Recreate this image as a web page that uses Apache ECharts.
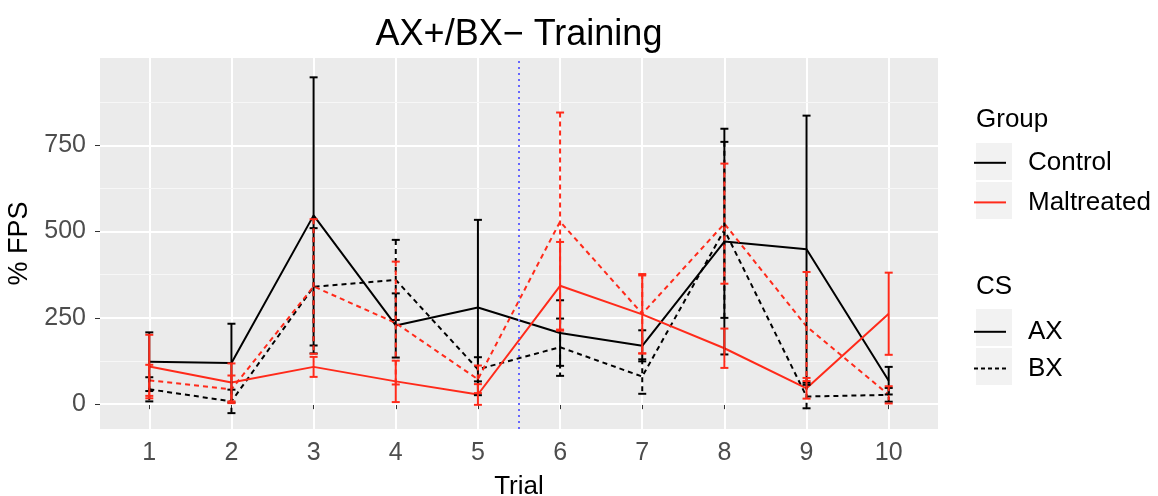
<!DOCTYPE html>
<html>
<head>
<meta charset="utf-8">
<script src="https://cdn.jsdelivr.net/npm/echarts@6/dist/echarts.min.js"></script>
<style>
  html, body { margin: 0; padding: 0; background: #fff; }
  #chart { width: 1158px; height: 496px; }
</style>
</head>
<body>
<div id="chart"></div>
<script>
// trials on the x axis
var trials = [1, 2, 3, 4, 5, 6, 7, 8, 9, 10];
var yTicks = [0, 250, 500, 750];
var yMinorTicks = [125, 375, 625, 875];

// % FPS means and error half-widths
var controlAX = [123, 119, 547, 228, 280, 206, 169, 471, 449, 68];
var controlAXErr = [85, 114, 400, 93, 254, 95, 45, 327, 387, 40];
var controlBX = [43, 8, 340, 360, 101, 165, 80, 505, 22, 27];
var controlBXErr = [35, 34, 170, 116, 35, 83, 50, 255, 34, 20];
var maltAX = [109, 63, 108, 66, 28, 343, 260, 162, 46, 262];
var maltAXErr = [92, 55, 29, 60, 30, 127, 113, 57, 30, 119];
var maltBX = [69, 43, 341, 235, 72, 529, 262, 523, 225, 27];
var maltBXErr = [45, 40, 195, 178, 40, 316, 115, 174, 158, 25];

var FONT = '"Liberation Sans", Arial, sans-serif';
var BLACK = '#000000';
var RED = '#ff2a1a';
var DASH = [5, 4];

function pairs(vals) {
  return trials.map(function (t, i) { return [t, vals[i]]; });
}

function lineSeries(name, color, dashed, vals) {
  return {
    name: name,
    type: 'line',
    data: pairs(vals),
    symbol: 'none',
    color: color,
    lineStyle: { color: color, width: 2, type: dashed ? DASH : 'solid' },
    z: 3
  };
}

function errorSeries(color, dashed, vals, errs) {
  return {
    type: 'custom',
    data: trials.map(function (t, i) { return [t, vals[i] - errs[i], vals[i] + errs[i]]; }),
    renderItem: function (params, api) {
      var lo = api.coord([api.value(0), api.value(1)]);
      var hi = api.coord([api.value(0), api.value(2)]);
      var w = 4;
      var bar = { stroke: color, lineWidth: 2, lineDash: dashed ? DASH : null };
      var cap = { stroke: color, lineWidth: 2 };
      return {
        type: 'group',
        children: [
          { type: 'line', shape: { x1: hi[0], y1: hi[1], x2: lo[0], y2: lo[1] }, style: bar },
          { type: 'line', shape: { x1: hi[0] - w, y1: hi[1], x2: hi[0] + w, y2: hi[1] }, style: cap },
          { type: 'line', shape: { x1: lo[0] - w, y1: lo[1], x2: lo[0] + w, y2: lo[1] }, style: cap }
        ]
      };
    },
    z: 4
  };
}

// dummy series, only there to feed the two legends
function keySeries(name, color, dashed) {
  return {
    name: name,
    type: 'line',
    data: [],
    symbol: 'none',
    color: color,
    itemStyle: { color: color },
    lineStyle: { color: color, width: 2.6, type: dashed ? [4, 3] : 'solid' }
  };
}

var chart = echarts.init(document.getElementById('chart'));

var ctrlLine = lineSeries('Control AX', BLACK, false, controlAX);
ctrlLine.markLine = {
  silent: true,
  symbol: 'none',
  label: { show: false },
  lineStyle: { color: '#6666ff', width: 2, type: [2, 4] },
  data: [{ xAxis: 5.5 }]
};

var legendText = { fontFamily: FONT, fontSize: 26, color: '#000', padding: [0, 0, 0, 17] };

chart.setOption({
  animation: false,
  textStyle: { fontFamily: FONT },
  title: {
    text: 'AX+/BX\u2212 Training',
    left: 514,
    top: 12,
    textAlign: 'center',
    textStyle: { fontFamily: FONT, fontSize: 36, fontWeight: 'normal', color: '#000' }
  },
  grid: {
    left: 100, right: 220, top: 58, bottom: 67,
    outerBoundsMode: 'none',
    backgroundColor: '#ebebeb', show: true, borderWidth: 0
  },
  legend: [
    {
      data: ['Control', 'Maltreated'],
      orient: 'vertical',
      left: 973,
      top: 148,
      padding: 0,
      itemWidth: 32,
      itemHeight: 37,
      itemGap: 10,
      selectedMode: false,
      itemStyle: { opacity: 0 },
      textStyle: legendText
    },
    {
      data: ['AX', 'BX'],
      orient: 'vertical',
      left: 973,
      top: 317,
      padding: 0,
      itemWidth: 32,
      itemHeight: 37,
      itemGap: 7,
      selectedMode: false,
      itemStyle: { opacity: 0 },
      textStyle: legendText
    }
  ],
  graphic: [
    { type: 'rect', left: 976, top: 143, shape: { width: 36, height: 37 }, style: { fill: '#f2f2f2' }, z: -1 },
    { type: 'rect', left: 976, top: 182, shape: { width: 36, height: 37 }, style: { fill: '#f2f2f2' }, z: -1 },
    { type: 'rect', left: 976, top: 309, shape: { width: 36, height: 37 }, style: { fill: '#f2f2f2' }, z: -1 },
    { type: 'rect', left: 976, top: 348, shape: { width: 36, height: 37 }, style: { fill: '#f2f2f2' }, z: -1 },
    { type: 'text', left: 976, top: 107, style: { text: 'Group', fontFamily: FONT, fontSize: 26, fill: '#000' } },
    { type: 'text', left: 976, top: 274, style: { text: 'CS', fontFamily: FONT, fontSize: 26, fill: '#000' } }
  ],
  xAxis: {
    type: 'value',
    min: 0.4,
    max: 10.6,
    name: 'Trial',
    nameLocation: 'middle',
    nameGap: 45,
    nameTextStyle: { fontFamily: FONT, fontSize: 26, color: '#000' },
    axisLine: { show: false },
    axisTick: { show: true, length: 5, lineStyle: { color: '#333', width: 1 }, customValues: trials },
    axisLabel: { fontFamily: FONT, fontSize: 25, color: '#4d4d4d', margin: 12, customValues: trials },
    splitLine: { show: true, lineStyle: { color: '#ffffff', width: 2 } }
  },
  yAxis: [
    {
      type: 'value',
      min: -72,
      max: 1003,
      name: '% FPS',
      nameLocation: 'middle',
      nameGap: 66,
      nameRotate: 90,
      nameTextStyle: { fontFamily: FONT, fontSize: 27, color: '#000' },
      axisLine: { show: false },
      axisTick: { show: true, length: 5, lineStyle: { color: '#333', width: 1 }, customValues: yTicks },
      axisLabel: { fontFamily: FONT, fontSize: 25, color: '#4d4d4d', margin: 14, customValues: yTicks },
      splitLine: { show: true, lineStyle: { color: '#ffffff', width: 2 } },
      z: 2
    },
    {
      type: 'value',
      min: -72,
      max: 1003,
      axisLine: { show: false },
      axisTick: { show: false, customValues: yMinorTicks },
      axisLabel: { show: false, customValues: yMinorTicks },
      splitLine: { show: true, lineStyle: { color: '#f7f7f7', width: 1.2 } },
      z: 1
    }
  ],
  series: [
    ctrlLine,
    lineSeries('Control BX', BLACK, true, controlBX),
    errorSeries(BLACK, false, controlAX, controlAXErr),
    errorSeries(BLACK, true, controlBX, controlBXErr),
    lineSeries('Maltreated AX', RED, false, maltAX),
    lineSeries('Maltreated BX', RED, true, maltBX),
    errorSeries(RED, false, maltAX, maltAXErr),
    errorSeries(RED, true, maltBX, maltBXErr),
    keySeries('Control', BLACK, false),
    keySeries('Maltreated', RED, false),
    keySeries('AX', BLACK, false),
    keySeries('BX', BLACK, true)
  ]
});
</script>
</body>
</html>
